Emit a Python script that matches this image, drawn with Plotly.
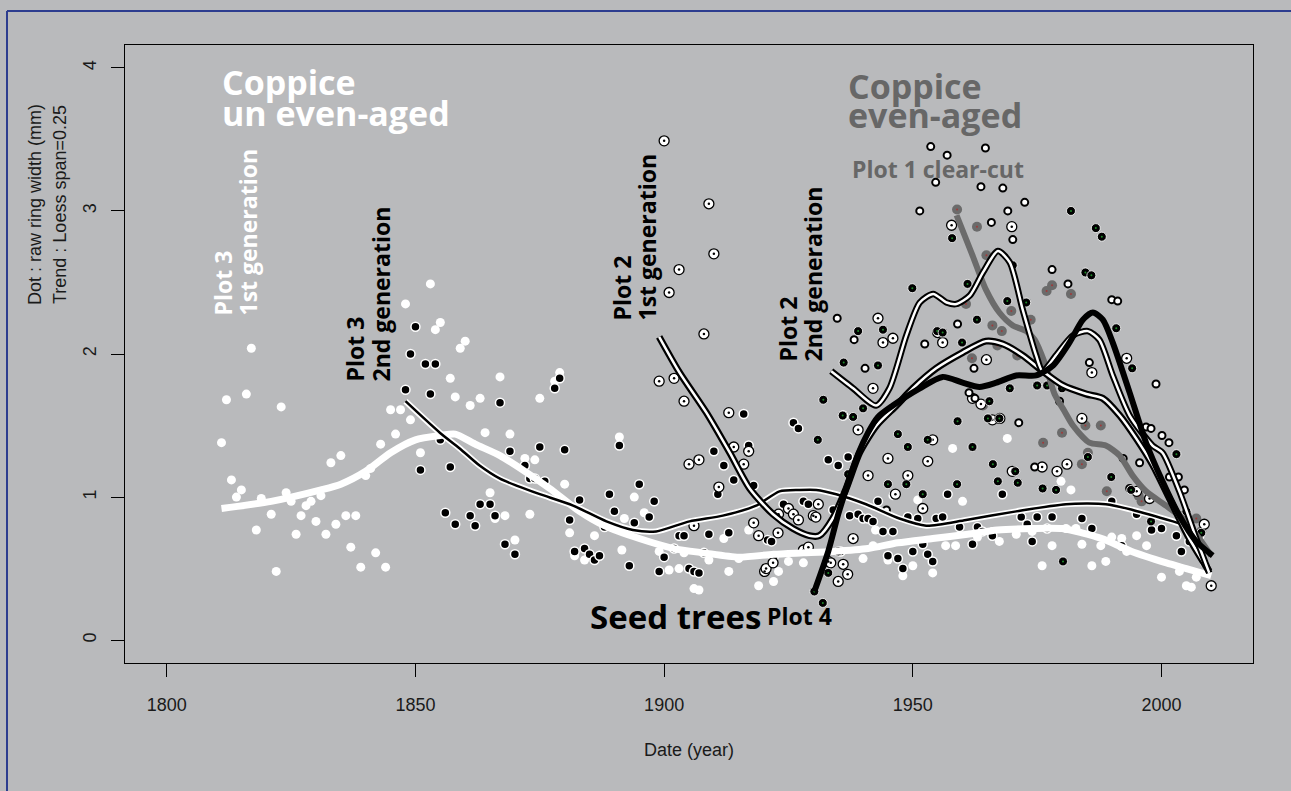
import plotly.graph_objects as go

BG = "#b9babc"

# ---------------- data ----------------
# white dots (no outline)
white_year = [1811, 1812, 1813, 1814, 1815, 1816, 1817, 1818, 1819, 1821, 1822, 1823, 1824, 1825, 1826, 1827, 1828, 1829,
              1830, 1831, 1832, 1833, 1834, 1835, 1836, 1837, 1838, 1839, 1840, 1841, 1842, 1843, 1844, 1845, 1846, 1847,
              1848, 1849, 1851, 1853, 1854, 1855, 1857, 1858, 1859, 1860, 1861, 1863, 1864, 1865, 1866, 1867, 1868, 1869,
              1870, 1872, 1873, 1874, 1875, 1878, 1879, 1880, 1881, 1882, 1884, 1886, 1891, 1891.5, 1892, 1893, 1894, 1896,
              1899, 1901, 1903, 1904, 1906, 1907, 1909, 1912, 1913, 1915, 1917, 1919, 1922, 1923, 1925, 1928, 1940, 1942,
              1942.5, 1945, 1946, 1948, 1950, 1951, 1954, 1956.6, 1958, 1958.6, 1960, 1963, 1966, 1967.4, 1969, 1970.8,
              1974, 1976, 1978, 1979.8, 1980.8, 1981.8, 1982.8, 1984, 1986, 1987.8, 1988.8, 1990, 1992, 1993, 1995, 1997,
              2000, 2003.6, 2005, 2006, 2007, 2008.6]
white_val = [1.38, 1.68, 1.12, 1.00, 1.05, 1.72, 2.04, 0.77, 0.99, 0.88, 0.48, 1.63, 1.03, 0.97, 0.74, 0.87, 0.94, 0.97,
             0.83, 1.01, 0.74, 1.24, 0.81, 1.29, 0.87, 0.65, 0.87, 0.51, 1.15, 1.20, 0.61, 1.37, 0.51, 1.61, 1.44, 1.61,
             2.35, 1.54, 1.31, 2.49, 2.17, 2.22, 1.83, 1.70, 2.04, 2.09, 1.64, 1.69, 1.45, 1.03, 0.85, 1.84, 0.87, 1.44,
             0.70, 1.27, 0.88, 1.26, 1.69, 1.81, 1.87, 1.09, 0.75, 0.59, 0.56, 0.73, 1.42, 0.63, 0.85, 0.52, 1.00, 0.89,
             0.62, 0.49, 0.50, 0.61, 0.36, 0.35, 0.56, 0.71, 0.48, 0.57, 0.77, 0.38, 0.41, 0.48, 0.55, 0.54, 0.57, 0.66,
             0.77, 0.56, 1.01, 0.45, 0.52, 0.98, 0.47, 0.66, 1.34, 0.66, 0.97, 0.72, 0.76, 0.69, 1.41, 0.74,
             0.76, 0.52, 0.66, 1.11, 0.78, 1.05, 0.78, 0.67, 0.52, 0.66, 0.55, 0.72, 0.71, 0.62, 0.73, 0.66,
             0.44, 0.48, 0.38, 0.37, 0.44, 0.54]

# Plot 3 2nd generation: black dots with white rim
p3_year = [1848, 1849, 1850, 1851, 1852, 1853, 1854, 1855, 1856, 1857, 1858, 1861, 1862, 1863, 1865, 1866, 1867, 1868,
           1869, 1870, 1872, 1873, 1874, 1875, 1876, 1878, 1879, 1880, 1881, 1882, 1883, 1884, 1885, 1886, 1887, 1888,
           1889, 1890, 1891, 1893, 1894, 1895, 1897, 1898, 1899, 1900, 1902, 1903, 1904, 1905, 1906, 1907, 1908, 1909,
           1910, 1910.8, 1912, 1913, 1914, 1916, 1917, 1918, 1920.8, 1921.6, 1922, 1924, 1926, 1927, 1928, 1929, 1933,
           1934, 1935, 1935.5, 1936, 1937, 1937.3, 1939, 1940, 1941, 1942, 1943, 1944, 1945, 1946, 1947, 1948, 1949,
           1950, 1951, 1952, 1953, 1954, 1954.7, 1956, 1957, 1959.4, 1962, 1963, 1964, 1966, 1968, 1971.8, 1973, 1974,
           1975, 1977, 1978, 1984, 1986, 1990, 1992, 1995, 1998, 2000, 2003, 2004, 2005.6, 2007.6]
p3_val = [1.75, 2.00, 2.19, 1.19, 1.93, 1.72, 1.93, 1.40, 0.89, 1.21, 0.81, 0.87, 0.80, 0.95, 0.95, 0.87, 1.66, 0.67,
          1.32, 0.60, 1.22, 1.13, 1.13, 1.35, 1.11, 1.76, 1.83, 1.33, 0.84, 0.62, 0.98, 0.64, 0.60, 0.56, 0.59, 0.79,
          1.02, 0.90, 1.36, 0.52, 0.82, 1.09, 0.86, 0.97, 0.48, 0.58, 0.64, 0.73, 0.73, 0.50, 0.48, 0.47, 0.61, 0.74,
          1.32, 1.02, 1.22, 0.75, 1.12, 1.58, 1.36, 1.08, 0.70, 0.69, 0.58, 0.95, 1.52, 1.48, 0.97, 0.95, 1.26,
          0.91, 1.22, 0.62, 1.57, 1.28, 0.87, 0.88, 0.85, 0.85, 0.83, 0.97, 0.76, 0.59, 0.76, 0.57, 0.50, 0.86,
          0.62, 0.85, 0.67, 0.60, 0.55, 0.85, 0.86, 1.02, 0.79, 0.67, 0.79, 0.76, 0.73, 1.02, 0.86, 0.81, 0.69,
          0.86, 0.78, 0.86, 0.85, 0.78, 0.97, 0.66, 0.88, 0.77, 0.78, 0.73, 0.62, 0.69, 0.73]

# Plot 2: large white dots with black rim and centre
p2_year = [1899, 1900, 1901, 1902, 1903, 1904, 1905, 1906, 1907, 1908, 1909, 1910, 1911, 1913, 1914, 1916, 1917, 1918,
           1919, 1920.2, 1920.5, 1921.9, 1922.9, 1923, 1925, 1926, 1927, 1928, 1929, 1930, 1930.5, 1931, 1933, 1933.5,
           1935, 1936, 1936.9, 1938, 1939, 1941, 1942, 1943, 1944, 1945, 1946, 1946.5, 1949, 1952, 1953, 1954, 1955,
           1956, 1957.8, 1962, 1963.7, 1964.8, 1966, 1967.5, 1969.9, 1970, 1976, 1979, 1981, 1984, 1986, 1993, 1995,
           1997.6, 2008.6, 2010]
p2_val = [1.81, 3.49, 2.43, 1.83, 2.59, 1.67, 1.23, 0.80, 1.26, 2.14, 3.05, 2.70, 1.07, 1.59, 1.35, 1.23, 1.32, 0.82,
          0.73, 0.48, 0.50, 0.54, 0.75, 0.88, 0.92, 0.88, 0.84, 0.63, 0.65, 0.87, 0.86, 0.95, 0.55, 0.54,
          0.41, 0.53, 0.46, 0.71, 1.47, 1.15, 1.76, 2.25, 2.08, 1.27, 2.11, 1.02, 1.15, 0.92, 1.25, 1.40, 2.15,
          2.08, 2.90, 1.69, 1.65, 1.96, 1.54, 1.55, 2.89, 1.18, 1.21, 1.18, 1.23, 1.55, 1.87, 1.97, 1.04,
          0.99, 0.81, 0.38]

# Plot 2 2nd generation: small white rings
ring_year = [1934.8, 1938.2, 1940.4, 1944.7, 1951.4, 1952.4, 1953.6, 1954.6, 1956.9, 1959, 1961.3, 1962.3, 1962.5,
             1963.7, 1964.6, 1965.8, 1968.1, 1969.1, 1970.1, 1971.3, 1972.5, 1974.5, 1978, 1979.5, 1981.2, 1985.5,
             1990, 1991.2, 1992.3, 1993.6, 1995.6, 1996.9, 1997.9, 1998.9, 2000.1, 2001.5, 2001.6, 2003.4, 2004.6]
ring_val = [2.25, 2.10, 1.90, 0.91, 3.00, 2.07, 3.45, 3.20, 3.39, 2.21, 1.73, 1.90, 1.69,
            3.17, 3.44, 2.92, 3.16, 3.00, 2.80, 1.52, 3.06, 1.21, 2.59, 1.67, 2.49, 1.94,
            2.38, 2.37, 1.27, 1.06, 1.24, 1.49, 1.48, 1.79, 1.43, 1.38, 1.14, 1.14, 1.05]

# Plot 4: black dots with green centre
p4_year = [1930.2, 1930.9, 1931.9, 1932, 1933, 1935, 1935.9, 1936.1, 1937, 1938, 1939, 1940, 1943, 1944, 1945, 1947,
           1948.7, 1949, 1949.9, 1952, 1953, 1954.9, 1956, 1957.9, 1958.9, 1959, 1959.9, 1961, 1962, 1962.9, 1965.1,
           1965.4, 1966.1, 1967.1, 1967.4, 1969, 1969.5, 1970.1, 1970.6, 1971.1, 1972.8, 1975, 1976.1, 1977, 1978.8,
           1980, 1980.2, 1981.8, 1984.7, 1985.2, 1985.9, 1986.8, 1988, 1989.9, 1990.9, 1993.9, 1994.1, 1997.9, 2003,
           2005, 2008]
p4_val = [0.34, 1.40, 0.26, 1.68, 0.47, 0.62, 1.57, 1.94, 1.16, 1.56, 2.16, 1.62, 1.92, 2.17, 1.09, 1.44,
          1.09, 1.35, 2.46, 1.02, 1.40, 2.16, 2.15, 2.81, 1.09, 1.53, 2.08, 2.49, 1.35, 2.24, 1.55,
          1.67, 1.23, 1.11, 1.55, 2.37, 1.76, 2.62, 1.18, 1.10, 2.36, 1.78, 1.06, 1.78, 1.05,
          1.76, 0.55, 3.00, 2.57, 1.28, 2.55, 2.88, 2.82, 1.14, 2.18, 1.05, 1.90, 0.83, 1.30,
          0.90, 0.75]

# Plot 1 clear-cut: grey dots
p1_year = [1958.9, 1960.7, 1961.9, 1962.9, 1964.1, 1964.8, 1966, 1967, 1967.9, 1969.8, 1971, 1973.7, 1976.2, 1976.9,
           1978, 1980, 1981.8, 1984, 1984.7, 1985.2, 1987.8, 1989, 1995.4, 1996, 2004.3, 2005.3, 2007, 2008]
p1_val = [3.01, 2.35, 1.97, 2.89, 1.64, 2.69, 2.20, 2.06, 2.16, 2.30, 1.99, 2.24, 1.38, 2.44,
          2.48, 1.45, 2.42, 1.23, 1.50, 1.31, 1.50, 1.04, 1.01, 0.97, 0.87, 0.78, 0.85, 0.76]

# ---------------- loess trends ----------------
tw_year = [1811, 1821, 1831, 1835, 1840, 1845, 1850, 1855, 1858, 1862, 1867, 1872, 1877, 1883, 1888, 1895, 1902, 1908,
           1915, 1922, 1928, 1934, 1941, 1947, 1954, 1961, 1967, 1974, 1980, 1984, 1988, 1994, 2001, 2005, 2010]
tw_val = [0.92, 0.97, 1.05, 1.09, 1.18, 1.31, 1.40, 1.43, 1.44, 1.37, 1.29, 1.18, 1.06, 0.90, 0.80, 0.71, 0.64, 0.61,
          0.58, 0.60, 0.61, 0.62, 0.64, 0.68, 0.71, 0.74, 0.77, 0.78, 0.78, 0.75, 0.71, 0.62, 0.54, 0.50, 0.45]

t3_year = [1848, 1854.9, 1858.9, 1862.9, 1866.9, 1870.3, 1875, 1881.7, 1888.4, 1893.7, 1898.4, 1905.1, 1911.8,
           1918.5, 1923.2, 1927.2, 1930.6, 1934.6, 1940.6, 1947.3, 1952.7, 1960.7, 1970.8, 1980.8, 1988.8, 1994.2,
           2002.3, 2005]
t3_val = [1.67, 1.45, 1.34, 1.22, 1.13, 1.08, 1.02, 0.94, 0.83, 0.77, 0.76, 0.83, 0.87,
          0.94, 1.04, 1.05, 1.05, 1.02, 0.95, 0.85, 0.80, 0.84, 0.90, 0.95, 0.95, 0.91,
          0.83, 0.80]

t2_year = [1899, 1903.1, 1908.5, 1913.2, 1917.2, 1921.9, 1925.9, 1929.2, 1931.2, 1933.9, 1936.6, 1939.3, 1942.7,
           1946.7, 1950, 1954.7, 1960, 1964.7, 1968.1, 1972.1, 1976.1, 1980.2, 1984.9, 1988.2, 1991.6, 1994.9,
           1998.3, 2001.6, 2005.6, 2009.6]
t2_val = [2.12, 1.87, 1.59, 1.31, 1.06, 0.88, 0.78, 0.73, 0.73, 0.85, 1.06, 1.31, 1.50,
          1.64, 1.76, 1.90, 2.01, 2.09, 2.07, 1.99, 1.88, 1.78, 1.72, 1.69, 1.57, 1.41,
          1.22, 0.99, 0.71, 0.48]

t2b_year = [1933.6, 1938, 1942.6, 1945.3, 1948.7, 1951.4, 1954.1, 1956.8, 1958.8, 1961.5, 1964.1, 1967.1, 1969.5,
            1972.1, 1974.8, 1976.1, 1978.8, 1982.2, 1985.2, 1987.5, 1990.2, 1993.6, 1998.2, 2000.2, 2003.6, 2007,
            2009.6]
t2b_val = [1.88, 1.76, 1.64, 1.76, 2.13, 2.36, 2.42, 2.36, 2.35, 2.41, 2.57, 2.72, 2.64,
           2.31, 1.99, 1.88, 1.99, 2.13, 2.16, 2.10, 1.85, 1.57, 1.36, 1.31, 1.04, 0.71,
           0.47]

t4_year = [1930.2, 1933, 1935, 1937, 1939, 1941, 1943, 1946, 1951.4, 1956, 1960, 1963.4, 1966.8, 1970.8, 1974.8,
           1978.2, 1981.5, 1984.2, 1986.2, 1988.2, 1990.2, 1993.6, 1996.9, 2000.2, 2003.6, 2007, 2010.3]
t4_val = [0.34, 0.62, 0.88, 1.10, 1.30, 1.45, 1.56, 1.64, 1.76, 1.84, 1.80, 1.77, 1.80, 1.85, 1.85,
          1.92, 2.08, 2.24, 2.29, 2.24, 2.08, 1.73, 1.38, 1.11, 0.87, 0.69, 0.59]

t1_year = [1958.8, 1962, 1964.7, 1967.4, 1970.1, 1972.8, 1974.5, 1976.5, 1978.5, 1980.5, 1982.2, 1985.5, 1988.8,
           1991.6, 1994.2, 1996.9, 2000.9, 2004.3, 2007.6, 2010]
t1_val = [2.97, 2.69, 2.45, 2.29, 2.20, 2.16, 2.10, 1.94, 1.72, 1.60, 1.50, 1.38, 1.36,
          1.29, 1.15, 1.04, 0.94, 0.85, 0.71, 0.59]

x_ticks = [1800, 1850, 1900, 1950, 2000]
y_ticks = [0, 1, 2, 3, 4]

# ---------------- geometry helpers (for text placement) ----------------
XR = [1791.6, 2018.4]
YR = [-0.16, 4.16]
PL, PR, PT, PB = 125, 1253, 45, 663


def fx(px):
    return XR[0] + (px - PL) / (PR - PL) * (XR[1] - XR[0])


def fy(py):
    return YR[1] - (py - PT) / (PB - PT) * (YR[1] - YR[0])


def paper_x(px):
    return (px - PL) / (PR - PL)


def paper_y(py):
    return (PB - py) / (PB - PT)


fig = go.Figure()


def dots(x, y, size, color, rim=None, rim_w=0):
    fig.add_trace(go.Scatter(x=x, y=y, mode="markers", hoverinfo="skip",
                             marker=dict(size=size, color=color,
                                         line=dict(color=rim or color, width=rim_w))))


def trend(x, y, layers):
    for color, width in layers:
        fig.add_trace(go.Scatter(x=x, y=y, mode="lines", hoverinfo="skip",
                                 line=dict(color=color, width=width, shape="spline", smoothing=0.7)))


# points
dots(white_year, white_val, 9, "white")
dots(p3_year, p3_val, 9, "black", "white", 1.5)
dots(p1_year, p1_val, 10, "#6b6b6b")
dots(p1_year, p1_val, 2, "#a03a3a")
dots(p2_year, p2_val, 10, "white", "black", 1.3)
dots(p2_year, p2_val, 2.5, "black")
dots(ring_year, ring_val, 7, "white", "black", 2)
dots(p4_year, p4_val, 9, "black", "white", 0.8)
dots(p4_year, p4_val, 2, "#1f8a2a")

# trends
trend(tw_year, tw_val, [("white", 7)])
trend(t3_year, t3_val, [("white", 6), ("black", 2.5)])
trend(t1_year, t1_val, [("#6b6b6b", 6)])
trend(t2_year, t2_val, [("black", 7), ("white", 2.5)])
trend(t2b_year, t2b_val, [("black", 6.5), ("white", 2.5)])
trend(t4_year, t4_val, [("black", 6)])

TXT = "Open Sans"
annots = []


def label(text, px, py, size, color, xanchor="left"):
    annots.append(dict(text="<b>%s</b>" % text, x=fx(px), y=fy(py), xref="x", yref="y",
                       xanchor=xanchor, yanchor="middle", showarrow=False,
                       font=dict(family=TXT, size=size, color=color)))


def vlabel(text, px, py_bottom, size, color):
    annots.append(dict(text="<b>%s</b>" % text, x=fx(px), y=fy(py_bottom), xref="x", yref="y",
                       xanchor="center", yanchor="bottom", textangle=-90, showarrow=False,
                       font=dict(family=TXT, size=size, color=color)))


GREY_TXT = "#676767"
label("Coppice", 220, 82, 34, "white")
label("un even-aged", 220, 113, 34, "white")
label("Coppice", 846, 86, 34, GREY_TXT)
label("even-aged", 846, 115, 34, GREY_TXT)
label("Plot 1 clear-cut", 850, 169, 23, GREY_TXT)
label("Seed trees", 588, 616, 33, "black")
label("Plot 4", 765, 616, 23, "black")

vlabel("Plot 3", 222, 318, 23, "white")
vlabel("1st generation", 247, 318, 23, "white")
vlabel("Plot 3", 354, 384, 23, "black")
vlabel("2nd generation", 380, 384, 23, "black")
vlabel("Plot 2", 621, 323, 23, "black")
vlabel("1st generation", 646, 323, 23, "black")
vlabel("Plot 2", 787, 364, 23, "black")
vlabel("2nd generation", 812, 364, 23, "black")

AX_FONT = "Liberation Sans"
annots.append(dict(text="Date (year)", x=0.5, y=paper_y(750), xref="paper", yref="paper",
                   xanchor="center", yanchor="middle", showarrow=False,
                   font=dict(family=AX_FONT, size=18, color="#1a1a1a")))
annots.append(dict(text="Dot : raw ring width (mm)", x=paper_x(35), y=paper_y(205), xref="paper", yref="paper",
                   xanchor="center", yanchor="middle", textangle=-90, showarrow=False,
                   font=dict(family=AX_FONT, size=18, color="#1a1a1a")))
annots.append(dict(text="Trend : Loess span=0.25", x=paper_x(60), y=paper_y(205), xref="paper", yref="paper",
                   xanchor="center", yanchor="middle", textangle=-90, showarrow=False,
                   font=dict(family=AX_FONT, size=18, color="#1a1a1a")))

BLUE = "#2d3d8f"
shapes = [
    dict(type="line", xref="paper", yref="paper", x0=paper_x(7), x1=paper_x(1300), y0=paper_y(11), y1=paper_y(11),
         line=dict(color=BLUE, width=2)),
    dict(type="line", xref="paper", yref="paper", x0=paper_x(7), x1=paper_x(7), y0=paper_y(11), y1=paper_y(800),
         line=dict(color=BLUE, width=2)),
]

axis_common = dict(showgrid=False, zeroline=False, showline=True, mirror=True, linecolor="black", linewidth=1,
                   ticks="outside", ticklen=13, tickwidth=1, tickcolor="black",
                   tickfont=dict(family=AX_FONT, size=18, color="#1a1a1a"))

fig.update_layout(
    width=1291, height=791,
    margin=dict(l=PL, r=1291 - PR, t=PT, b=791 - PB),
    paper_bgcolor=BG, plot_bgcolor=BG,
    showlegend=False,
    xaxis=dict(range=XR, tickvals=x_ticks, ticktext=[str(v) for v in x_ticks], ticklabelstandoff=12, **axis_common),
    yaxis=dict(range=YR, tickvals=y_ticks, ticktext=[str(v) for v in y_ticks], tickangle=-90,
               ticklabelstandoff=8, **axis_common),
    annotations=annots,
    shapes=shapes,
)

fig.write_html("out.html", config={"displayModeBar": False},
               post_script="document.body.style.margin='0';document.body.style.background='%s';" % BG)
